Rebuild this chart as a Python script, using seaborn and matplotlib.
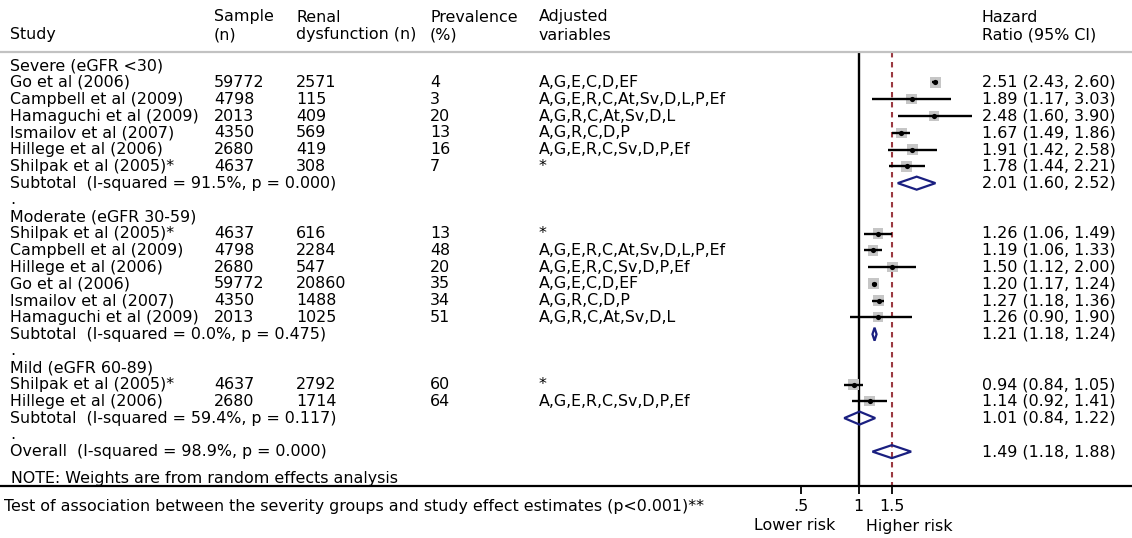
import numpy as np
import pandas as pd
import seaborn as sns
import matplotlib.pyplot as plt
from matplotlib import transforms
from matplotlib.patches import Polygon
from matplotlib.ticker import NullLocator

# --- data ---
labels = [
    "Severe (eGFR <30)",
    "Go et al (2006)", "Campbell et al (2009)", "Hamaguchi et al (2009)",
    "Ismailov et al (2007)", "Hillege et al (2006)", "Shilpak et al (2005)*",
    "Subtotal  (I-squared = 91.5%, p = 0.000)",
    ".",
    "Moderate (eGFR 30-59)",
    "Shilpak et al (2005)*", "Campbell et al (2009)", "Hillege et al (2006)",
    "Go et al (2006)", "Ismailov et al (2007)", "Hamaguchi et al (2009)",
    "Subtotal  (I-squared = 0.0%, p = 0.475)",
    ".",
    "Mild (eGFR 60-89)",
    "Shilpak et al (2005)*", "Hillege et al (2006)",
    "Subtotal  (I-squared = 59.4%, p = 0.117)",
    ".",
    "Overall  (I-squared = 98.9%, p = 0.000)",
]
kinds = (["group"] + ["study"] * 6 + ["subtotal", "blank"]
         + ["group"] + ["study"] * 6 + ["subtotal", "blank"]
         + ["group"] + ["study"] * 2 + ["subtotal", "blank", "overall"])

sample_n = ["", "59772", "4798", "2013", "4350", "2680", "4637", "", "",
            "", "4637", "4798", "2680", "59772", "4350", "2013", "", "",
            "", "4637", "2680", "", "", ""]
renal_n = ["", "2571", "115", "409", "569", "419", "308", "", "",
           "", "616", "2284", "547", "20860", "1488", "1025", "", "",
           "", "2792", "1714", "", "", ""]
prevalence = ["", "4", "3", "20", "13", "16", "7", "", "",
              "", "13", "48", "20", "35", "34", "51", "", "",
              "", "60", "64", "", "", ""]
adjusted = ["", "A,G,E,C,D,EF", "A,G,E,R,C,At,Sv,D,L,P,Ef", "A,G,R,C,At,Sv,D,L",
            "A,G,R,C,D,P", "A,G,E,R,C,Sv,D,P,Ef", "*", "", "",
            "", "*", "A,G,E,R,C,At,Sv,D,L,P,Ef", "A,G,E,R,C,Sv,D,P,Ef",
            "A,G,E,C,D,EF", "A,G,R,C,D,P", "A,G,R,C,At,Sv,D,L", "", "",
            "", "*", "A,G,E,R,C,Sv,D,P,Ef", "", "", ""]

nan = np.nan
hr = [nan, 2.51, 1.89, 2.48, 1.67, 1.91, 1.78, 2.01, nan,
      nan, 1.26, 1.19, 1.50, 1.20, 1.27, 1.26, 1.21, nan,
      nan, 0.94, 1.14, 1.01, nan, 1.49]
ci_low = [nan, 2.43, 1.17, 1.60, 1.49, 1.42, 1.44, 1.60, nan,
          nan, 1.06, 1.06, 1.12, 1.17, 1.18, 0.90, 1.18, nan,
          nan, 0.84, 0.92, 0.84, nan, 1.18]
ci_high = [nan, 2.60, 3.03, 3.90, 1.86, 2.58, 2.21, 2.52, nan,
           nan, 1.49, 1.33, 2.00, 1.24, 1.36, 1.90, 1.24, nan,
           nan, 1.05, 1.41, 1.22, nan, 1.88]
# approximate random-effects weights (%), judged from box sizes
weights = [nan, 7.6, 6.9, 6.8, 7.3, 7.0, 7.2, nan, nan,
           nan, 7.3, 7.3, 6.9, 7.6, 7.4, 6.7, nan, nan,
           nan, 7.4, 7.0, nan, nan, nan]

header_cols = [("Study", None), ("Sample", "(n)"), ("Renal", "dysfunction (n)"),
               ("Prevalence", "(%)"), ("Adjusted", "variables"),
               ("Hazard", "Ratio (95% CI)")]
note = "NOTE: Weights are from random effects analysis"
test_note = ("Test of association between the severity groups and study "
             "effect estimates (p<0.001)**")

# --- layout helpers (pixels of the 1132x538 canvas) ---
W, H = 1132, 538
ROW0, ROW_H = 65.7, 16.78


def px2row(py):
    return (py - ROW0) / ROW_H


col_x = [10, 214, 296, 430, 539, 982]
FS = 11.4

sns.set_theme(style="white")
plt.rcParams["font.family"] = ["DejaVu Sans"]
plt.rcParams["text.color"] = "black"

fig = plt.figure(figsize=(W / 100, H / 100), dpi=100)
ax = fig.add_axes([790 / W, 0, 190 / W, 1])
ax.set_xscale("log")
ax.set_xlim(0.437, 4.31)
ax.set_ylim(px2row(H), px2row(0))
ax.patch.set_alpha(0)
for s in ax.spines.values():
    s.set_visible(False)

trans = transforms.blended_transform_factory(fig.transFigure, ax.transData)

df = pd.DataFrame({"row": np.arange(len(labels)), "kind": kinds, "hr": hr,
                   "lo": ci_low, "hi": ci_high, "w": weights})
studies = df[df.kind == "study"]
pooled = df[df.kind.isin(["subtotal", "overall"])]

# boxes, CI lines, point estimates
wmin, wmax = studies.w.min(), studies.w.max()
sns.scatterplot(data=studies, x="hr", y="row", size="w",
                sizes=(8.0 * wmin, 8.0 * wmax), size_norm=(wmin, wmax),
                marker="s", color="#c6c6c6", linewidth=0, legend=False,
                ax=ax, zorder=2)
ax.hlines(studies.row, studies.lo, studies.hi, color="black", lw=1.7,
          zorder=3, clip_on=False)
sns.scatterplot(data=studies, x="hr", y="row", color="black", s=14,
                linewidth=0, legend=False, ax=ax, zorder=4)

# pooled diamonds
half = 6.5 / ROW_H
for _, r in pooled.iterrows():
    ax.add_patch(Polygon([(r.lo, r.row), (r.hr, r.row - half),
                          (r.hi, r.row), (r.hr, r.row + half)],
                         closed=True, fill=False, edgecolor="#1a1f80",
                         lw=1.6, zorder=3))

# reference lines
top, axis_y = px2row(52.5), px2row(486)
ax.vlines(1, top, axis_y, color="black", lw=1.7, zorder=1)
overall_hr = pooled[pooled.kind == "overall"].hr.iloc[0]
ax.vlines(overall_hr, top, axis_y, color="#9b3a42", lw=1.5,
          linestyles=(0, (2.6, 2.2)), zorder=1)
ax.plot([0, 1], [top, top], transform=trans, color="#c2c2c2", lw=1.6,
        clip_on=False)
ax.plot([0, 1], [axis_y, axis_y], transform=trans, color="black", lw=1.6,
        clip_on=False)

# x axis ticks
ax.spines["bottom"].set_position(("data", axis_y))
ax.set_xticks([0.5, 1, 1.5], [".5", "1", "1.5"])
ax.xaxis.set_minor_locator(NullLocator())
ax.set_yticks([])
ax.tick_params(axis="x", bottom=True, direction="out", length=6, width=1.3,
               color="black", pad=3.5, labelsize=FS, labelcolor="black")
ax.set_xlabel("")
ax.set_ylabel("")

# header
for (l1, l2), x in zip(header_cols, col_x):
    if l2 is None:
        ax.text(x / W, px2row(35), l1, transform=trans, ha="left",
                va="center", fontsize=FS)
    else:
        ax.text(x / W, px2row(17), l1, transform=trans, ha="left",
                va="center", fontsize=FS)
        ax.text(x / W, px2row(35), l2, transform=trans, ha="left",
                va="center", fontsize=FS)

# table rows
hr_text = ["" if np.isnan(h) else f"{h:.2f} ({l:.2f}, {u:.2f})"
           for h, l, u in zip(hr, ci_low, ci_high)]
for i in range(len(labels)):
    for x, txt in zip(col_x, [labels[i], sample_n[i], renal_n[i],
                              prevalence[i], adjusted[i], hr_text[i]]):
        if txt:
            ax.text(x / W, i, txt, transform=trans, ha="left", va="center",
                    fontsize=FS)

ax.text(11 / W, px2row(479), note, transform=trans, ha="left", va="center",
        fontsize=FS)
ax.text(4 / W, px2row(506.5), test_note, transform=trans, ha="left",
        va="center", fontsize=FS)
ax.text(795 / W, px2row(526), "Lower risk", transform=trans, ha="center",
        va="center", fontsize=FS)
ax.text(909 / W, px2row(526), "Higher risk", transform=trans, ha="center",
        va="center", fontsize=FS)

fig.savefig("out.png", dpi=100)
